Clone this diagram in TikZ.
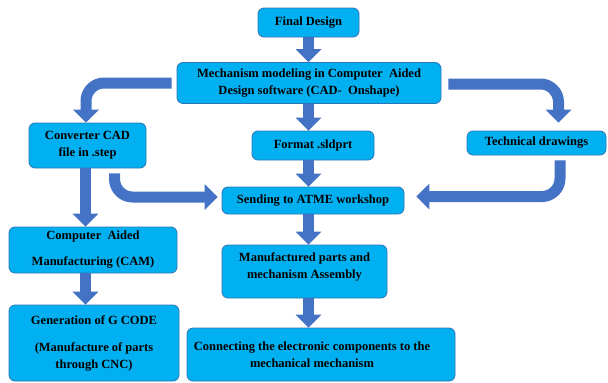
\documentclass[tikz,border=0pt]{standalone}
\usepackage{fontspec}
\setmainfont{Liberation Serif}
\definecolor{boxcyan}{HTML}{00B0F0}
\definecolor{boxedge}{HTML}{2E75B6}
\definecolor{arrowblue}{HTML}{4472C4}
\usetikzlibrary{arrows.meta,calc}

\begin{document}
\begin{tikzpicture}[x=1pt,y=-1pt,
    every node/.style={font=\fontsize{12.5}{17}\selectfont\bfseries},
    stepnode/.style={draw=boxedge,fill=boxcyan,rounded corners=6pt,align=center,inner sep=0pt,line width=0.8pt},
    flowarrow/.style={draw=arrowblue,line width=11pt,-{Triangle[width=25pt,length=13pt]}},
    bendarrow/.style={flowarrow,rounded corners=18pt}
    ]
    \useasboundingbox (0,0) rectangle (608,383);

    % the middle column
    \node[stepnode,minimum width=101pt,minimum height=29pt] (final) at (308.5,22.5) {Final Design};
    \node[stepnode,minimum width=264pt,minimum height=41pt] (model) at (309,83) {Mechanism modeling in Computer\ \ Aided\\Design software (CAD-\ \ Onshape)};
    \node[stepnode,minimum width=122pt,minimum height=29pt] (format) at (313,145.5) {Format .sldprt};
    \node[stepnode,minimum width=182pt,minimum height=27pt] (send) at (313,200.5) {Sending\ to\ ATME\ workshop};
    \node[stepnode,minimum width=165pt,minimum height=53pt] (mfg) at (304.5,271.5) {Manufactured parts and\\mechanism Assembly\\[-6pt]};
    \node[stepnode,minimum width=268pt,minimum height=53pt] (conn) at (321,354.5) {\hspace*{-18pt}Connecting the electronic components to the\\\hspace*{-18pt}mechanical mechanism};

    % the left column
    \node[stepnode,minimum width=117pt,minimum height=45pt] (conv) at (87.5,145.5) {Converter CAD\\file in .step};
    \node[stepnode,minimum width=168pt,minimum height=46pt] (cam) at (93,250) {Computer\ \ Aided\\[9pt]Manufacturing (CAM)};
    \node[stepnode,minimum width=170pt,minimum height=76pt] (gcode) at (94,343) {Generation of G CODE\\[10pt](Manufacture of parts\\through CNC)};

    % the right column
    \node[stepnode,minimum width=139pt,minimum height=24pt] (tech) at (536.5,143) {Technical drawings};

    % the arrows
    \draw[flowarrow] (final.south) -- (final.south |- model.north);
    \draw[flowarrow] (model.south -| final.south) -- (format.north -| final.south);
    \draw[flowarrow] (format.south -| final.south) -- (send.north -| final.south);
    \draw[flowarrow] (send.south -| final.south) -- (mfg.north -| final.south);
    \draw[flowarrow] (mfg.south -| final.south) -- (conn.north -| final.south);
    \draw[bendarrow] ($(model.west)+(-5,0)$) -| ($(conv.north)+(-1.5,0)$);
    \draw[bendarrow] ($(model.east)+(7,1)$) -| ($(tech.north)+(22,-8)$);
    \draw[flowarrow] ($(conv.south)+(-2,0)$) -- ($(cam.north)+(-7.5,0)$);
    \draw[bendarrow] ($(conv.south)+(27,5)$) |- ($(send.west)+(-4,-3.5)$);
    \draw[bendarrow] ($(tech.south)+(23.5,5)$) |- ($(send.east)+(12,-4)$);
    \draw[flowarrow] ($(cam.south)+(-7.5,0)$) -- ($(gcode.north)+(-8.5,0)$);

\end{tikzpicture}
\end{document}
